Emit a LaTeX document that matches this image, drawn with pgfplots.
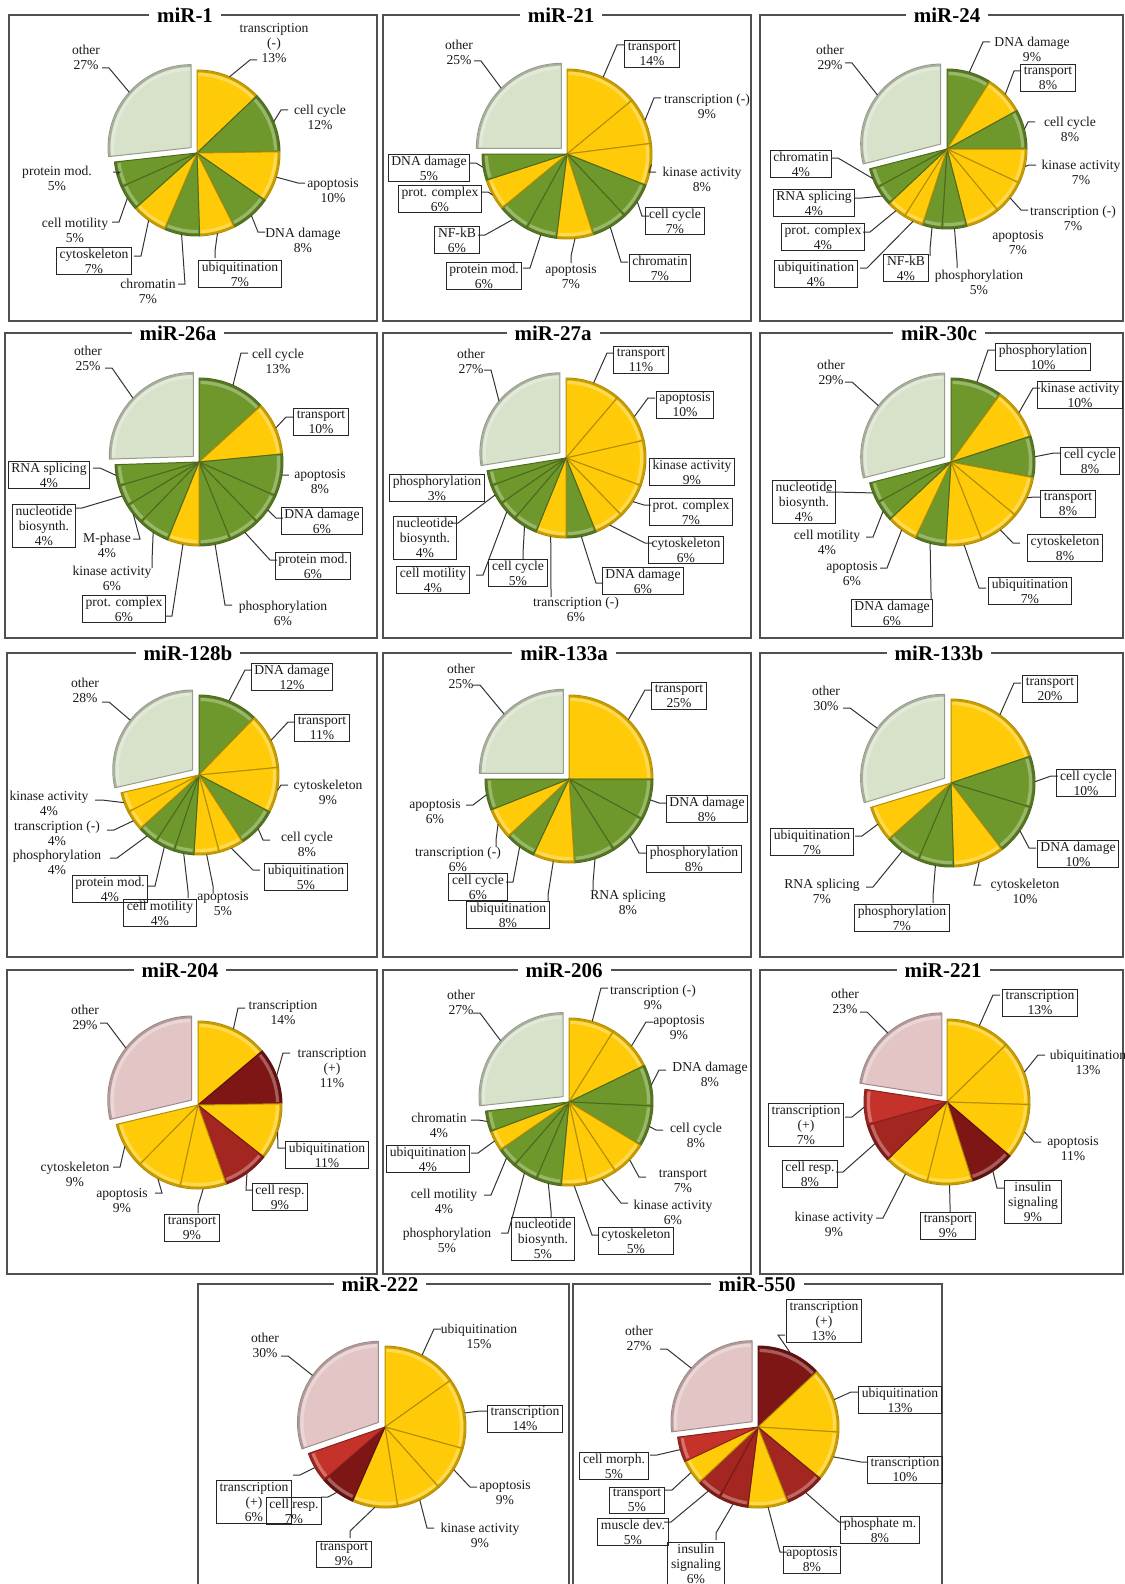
\documentclass[border=0pt]{standalone}
\usepackage{pgfplots}
\pgfplotsset{compat=1.18}
\usepackage{fontspec}
\setmainfont{Liberation Serif}
\definecolor{cY}{HTML}{FFCA08}
\definecolor{cG}{HTML}{6E982C}
\definecolor{cOG}{HTML}{D8E1CA}
\definecolor{cOP}{HTML}{E3C5C5}
\definecolor{cR1}{HTML}{7E1616}
\definecolor{cR2}{HTML}{A32621}
\definecolor{cR3}{HTML}{C4322A}
\definecolor{txt}{HTML}{1A1A1A}
\definecolor{pbox}{HTML}{505050}
\tikzset{
  lab/.style={font=\fontsize{6.8}{7.5}\selectfont, align=center, text=txt},
  bx/.style={draw=black!85, line width=0.5pt, inner xsep=1.6pt, inner ysep=0.8pt},
  nb/.style={inner sep=1pt},
  ldr/.style={draw=black!80, line width=0.5pt},
  ttl/.style={fill=white, inner xsep=4pt, inner ysep=1pt, font=\bfseries\fontsize{10.5}{12}\selectfont, text=black},
}
% #1 cx, #2 cy, #3 r (px), #4 list val/col/explode/lx/ly/ax/ay/side/box/text
\newcommand\pie[4]{%
  \gdef\pietotal{0}%
  \foreach \val/\col/\exd/\lx/\ly/\ax/\ay/\sd/\bx/\txt in {#4}{%
    \pgfmathparse{\pietotal+\val}\global\let\pietotal\pgfmathresult}%
  \gdef\pieang{90}%
  \foreach \val/\col/\exd/\lx/\ly/\ax/\ay/\sd/\bx/\txt in {#4}{%
    \pgfmathsetmacro\aend{\pieang-360*\val/\pietotal}%
    \pgfmathsetmacro\amid{(\pieang+\aend)/2}%
    \pgfmathsetmacro\pcx{#1+\exd*cos(\amid)}%
    \pgfmathsetmacro\pcy{#2-\exd*sin(\amid)}%
    \pgfmathsetmacro\rr{#3*0.5}%
    \pgfmathsetmacro\rh{#3*0.5-2.2}%
    \pgfmathsetmacro\rd{#3*0.5-0.7}%
    \edef\temp{\noexpand\fill[fill=\col, draw=\col!70!black, line width=0.5pt, line join=round]
      (axis cs:\pcx,\pcy) -- ++(\pieang:\rr pt) arc[start angle=\pieang, end angle=\aend, radius=\rr pt] -- cycle;}%
    \temp
    \edef\temp{\noexpand\draw[\col!45!white, line width=1.6pt, opacity=0.55]
      (axis cs:\pcx,\pcy) ++(\pieang-1.2:\rh pt) arc[start angle=\pieang-1.2, end angle=\aend+1.2, radius=\rh pt];}%
    \temp
    \edef\temp{\noexpand\draw[\col!72!black, line width=0.9pt, opacity=0.8]
      (axis cs:\pcx,\pcy) ++(\pieang:\rd pt) arc[start angle=\pieang, end angle=\aend, radius=\rd pt];}%
    \temp
    \global\let\pieang\aend
  }%
  \gdef\pieang{90}%
  \foreach \val/\col/\exd/\lx/\ly/\ax/\ay/\sd/\bx/\txt in {#4}{%
    \pgfmathsetmacro\aend{\pieang-360*\val/\pietotal}%
    \pgfmathsetmacro\amid{(\pieang+\aend)/2}%
    \pgfmathsetmacro\pcx{#1+\exd*cos(\amid)}%
    \pgfmathsetmacro\pcy{#2-\exd*sin(\amid)}%
    \pgfmathsetmacro\epx{\pcx+#3*cos(\amid)}%
    \pgfmathsetmacro\epy{\pcy-#3*sin(\amid)}%
    \ifnum\sd>0
      \ifcase\sd\or
        \pgfmathsetmacro\elx{\ax-7}\let\ely\ay
      \or
        \pgfmathsetmacro\elx{\ax+7}\let\ely\ay
      \or
        \let\elx\ax\pgfmathsetmacro\ely{\ay-7}%
      \fi
      \edef\temp{\noexpand\draw[ldr] (axis cs:\epx,\epy) -- (axis cs:\elx,\ely) -- (axis cs:\ax,\ay);}%
      \temp
    \fi
    \edef\temp{\noexpand\node[lab,\bx] at (axis cs:\lx,\ly) {\unexpanded\expandafter{\txt}};}%
    \temp
    \global\let\pieang\aend
  }%
}
% #1 x1 #2 y1 #3 x2 #4 y2 #5 title x #6 title
\newcommand\panel[6]{%
  \draw[pbox, line width=0.7pt] (axis cs:#1,#2) rectangle (axis cs:#3,#4);
  \node[ttl] at (axis cs:#5,#2) {#6};
}
\begin{document}
\begin{tikzpicture}
\begin{axis}[x=0.5pt, y=0.5pt, scale only axis, xmin=0, xmax=1124, ymin=0, ymax=1584,
  y dir=reverse, hide axis, clip=false]
% ---------- row 1
\panel{9}{15}{377}{321}{185}{miR-1}
\pie{197}{153}{83}{
13/cY/0/274/43/257/60/1/nb/{transcription\\(-)\\13\%},
12/cG/0/320/117/288/110/1/nb/{cell cycle\\12\%},
10/cY/0/333/191/305/183/1/nb/{apoptosis\\10\%},
8/cG/0/303/240/265/232/1/nb/{DNA damage\\8\%},
7/cY/0/240/274/215/258/3/bx/{ubiquitination\\7\%},
7/cG/0/148/291/178/284/2/nb/{chromatin\\7\%},
7/cY/0/94/261/134/256/2/bx/{cytoskeleton\\7\%},
5/cG/0/75/230/112/222/2/nb/{cell motility\\5\%},
5/cG/0/57/178/113/172/2/nb/{protein mod.\\5\%},
27/cOG/8/86/57/102/68/2/nb/{other\\27\%}}
\panel{383}{15}{751}{321}{561}{miR-21}
\pie{567}{154}{85}{
14/cY/0/652/54/624/45/1/bx/{transport\\14\%},
9/cY/0/707/106/661/98/1/nb/{transcription (-)\\9\%},
8/cY/0/702/179/656/172/1/nb/{kinase activity\\8\%},
7/cG/0/675/221/649/216/1/bx/{cell cycle\\7\%},
7/cG/0/660/268/628/262/1/bx/{chromatin\\7\%},
7/cY/0/571/277/571/263/3/nb/{apoptosis\\7\%},
6/cG/0/484/276/523/268/2/bx/{protein mod.\\6\%},
6/cG/0/457/240/478/235/2/bx/{NF-kB\\6\%},
6/cY/0/440/199/481/192/2/bx/{prot. complex\\6\%},
5/cG/0/429/168/469/163/2/bx/{DNA damage\\5\%},
25/cOG/8/459/52/474/61/2/nb/{other\\25\%}}
\panel{760}{15}{1123}{321}{947}{miR-24}
\pie{947}{149}{80}{
9/cG/0/1032/49/990/42/1/nb/{DNA damage\\9\%},
8/cY/0/1048/78/1021/71/1/bx/{transport\\8\%},
8/cG/0/1070/129/1035/122/1/nb/{cell cycle\\8\%},
7/cY/0/1081/172/1036/165/1/nb/{kinase activity\\7\%},
7/cY/0/1073/218/1028/210/1/nb/{transcription (-)\\7\%},
7/cY/0/1018/243/0/0/0/nb/{apoptosis\\7\%},
5/cG/0/979/282/957/268/3/nb/{phosphorylation\\5\%},
4/cG/0/906/268/930/256/3/bx/{NF-kB\\4\%},
4/cY/0/816/274/860/268/2/bx/{ubiquitination\\4\%},
4/cY/0/823/237/863/232/2/bx/{prot. complex\\4\%},
4/cG/0/814/203/855/198/2/bx/{RNA splicing\\4\%},
4/cG/0/801/164/831/158/2/bx/{chromatin\\4\%},
29/cOG/8/830/57/845/63/2/nb/{other\\29\%}}
% ---------- row 2
\panel{5}{333}{377}{638}{178}{miR-26a}
\pie{199}{462}{84}{
13/cG/0/278/361/248/353/1/nb/{cell cycle\\13\%},
10/cY/0/321/422/293/417/1/bx/{transport\\10\%},
8/cG/0/320/482/289/475/1/nb/{apoptosis\\8\%},
6/cG/0/322/521/283/518/1/bx/{DNA damage\\6\%},
6/cG/0/313/566/277/560/1/bx/{protein mod.\\6\%},
6/cG/0/283/613/232/605/1/nb/{phosphorylation\\6\%},
6/cY/0/124/609/165/616/2/bx/{prot. complex\\6\%},
6/cG/0/112/578/152/568/3/nb/{kinase activity\\6\%},
4/cG/0/107/545/133/539/2/nb/{M-phase\\4\%},
4/cG/0/44/526/75/508/2/bx/{nucleotide\\biosynth.\\4\%},
4/cG/0/49/475/93/468/2/bx/{RNA splicing\\4\%},
25/cOG/8/88/358/105/368/2/nb/{other\\25\%}}
\panel{383}{333}{751}{638}{553}{miR-27a}
\pie{566}{458}{80}{
11/cY/0/641/360/614/353/1/bx/{transport\\11\%},
10/cY/0/685/405/655/398/1/bx/{apoptosis\\10\%},
9/cY/0/692/472/0/0/0/bx/{kinase activity\\9\%},
7/cY/0/691/512/651/505/1/bx/{prot. complex\\7\%},
6/cY/0/686/550/652/543/1/bx/{cytoskeleton\\6\%},
6/cG/0/643/581/603/583/1/bx/{DNA damage\\6\%},
6/cY/0/576/609/551/597/3/nb/{transcription (-)\\6\%},
5/cG/0/518/573/523/560/3/bx/{cell cycle\\5\%},
4/cG/0/433/580/476/575/2/bx/{cell motility\\4\%},
4/cG/0/425/538/451/523/2/bx/{nucleotide\\biosynth.\\4\%},
3/cG/0/437/488/0/0/0/bx/{phosphorylation\\3\%},
27/cOG/8/471/361/484/370/2/nb/{other\\27\%}}
\panel{760}{333}{1123}{638}{939}{miR-30c}
\pie{951}{462}{84}{
10/cG/0/1043/357/995/350/1/bx/{phosphorylation\\10\%},
10/cY/0/1080/395/1040/388/1/bx/{kinase activity\\10\%},
8/cG/0/1090/461/1061/453/1/bx/{cell cycle\\8\%},
8/cY/0/1068/504/1041/497/1/bx/{transport\\8\%},
8/cY/0/1065/548/1020/543/1/bx/{cytoskeleton\\8\%},
7/cY/0/1030/591/986/588/1/bx/{ubiquitination\\7\%},
6/cG/0/892/613/931/600/3/bx/{DNA damage\\6\%},
6/cY/0/852/574/880/568/2/nb/{apoptosis\\6\%},
4/cG/0/827/542/866/537/2/nb/{cell motility\\4\%},
4/cG/0/804/502/826/492/2/bx/{nucleotide\\biosynth.\\4\%},
29/cOG/8/831/372/845/382/2/nb/{other\\29\%}}
% ---------- row 3
\panel{7}{653}{377}{957}{188}{miR-128b}
\pie{199}{775}{80}{
12/cG/0/292/677/252/670/1/bx/{DNA damage\\12\%},
11/cY/0/322/728/295/722/1/bx/{transport\\11\%},
9/cY/0/328/792/288/785/1/nb/{cytoskeleton\\9\%},
8/cG/0/307/844/270/840/1/nb/{cell cycle\\8\%},
5/cY/0/306/877/260/870/1/bx/{ubiquitination\\5\%},
5/cY/0/223/904/213/893/3/nb/{apoptosis\\5\%},
4/cG/0/160/913/188/898/3/bx/{cell motility\\4\%},
4/cG/0/110/889/148/886/2/bx/{protein mod.\\4\%},
4/cG/0/57/862/110/858/2/nb/{phosphorylation\\4\%},
4/cY/0/57/833/107/830/2/nb/{transcription (-)\\4\%},
4/cY/0/49/803/95/800/2/nb/{kinase activity\\4\%},
28/cOG/8/85/690/102/702/2/nb/{other\\28\%}}
\panel{383}{653}{751}{957}{564}{miR-133a}
\pie{569}{779}{84}{
25/cY/0/679/696/652/690/1/bx/{transport\\25\%},
8/cG/0/707/809/666/803/1/bx/{DNA damage\\8\%},
8/cG/0/694/859/646/853/1/bx/{phosphorylation\\8\%},
8/cG/0/628/902/593/890/3/nb/{RNA splicing\\8\%},
8/cY/0/508/915/548/902/3/bx/{ubiquitination\\8\%},
6/cG/0/478/887/506/882/2/bx/{cell cycle\\6\%},
6/cY/0/458/859/496/847/3/nb/{transcription (-)\\6\%},
6/cG/0/435/812/466/805/2/nb/{apoptosis\\6\%},
25/cOG/8/461/676/473/685/2/nb/{other\\25\%}}
\panel{760}{653}{1123}{957}{939}{miR-133b}
\pie{951}{783}{84}{
20/cY/0/1050/689/1021/683/1/bx/{transport\\20\%},
10/cG/0/1086/783/1058/776/1/bx/{cell cycle\\10\%},
10/cG/0/1078/854/1036/848/1/bx/{DNA damage\\10\%},
10/cY/0/1025/891/981/885/1/nb/{cytoskeleton\\10\%},
7/cG/0/902/918/933/903/3/bx/{phosphorylation\\7\%},
7/cG/0/822/891/866/887/2/nb/{RNA splicing\\7\%},
7/cY/0/812/842/855/836/2/bx/{ubiquitination\\7\%},
30/cOG/8/826/698/843/708/2/nb/{other\\30\%}}
% ---------- row 4
\panel{7}{970}{377}{1274}{180}{miR-204}
\pie{198}{1105}{84}{
14/cY/0/283/1013/245/1008/1/nb/{transcription\\14\%},
11/cR1/0/332/1068/290/1053/1/nb/{transcription\\(+)\\11\%},
11/cY/0/327/1155/285/1148/1/bx/{ubiquitination\\11\%},
9/cR2/0/280/1197/253/1190/1/bx/{cell resp.\\9\%},
9/cY/0/192/1228/198/1213/3/bx/{transport\\9\%},
9/cY/0/122/1201/155/1193/2/nb/{apoptosis\\9\%},
9/cY/0/75/1174/113/1167/2/nb/{cytoskeleton\\9\%},
29/cOP/8/85/1017/100/1023/2/nb/{other\\29\%}}
\panel{383}{970}{751}{1274}{564}{miR-206}
\pie{569}{1102}{84}{
9/cY/0/653/997/608/988/1/nb/{transcription (-)\\9\%},
9/cY/0/679/1028/653/1022/1/nb/{apoptosis\\9\%},
8/cG/0/710/1074/666/1070/1/nb/{DNA damage\\8\%},
8/cG/0/696/1135/663/1130/1/nb/{cell cycle\\8\%},
7/cY/0/683/1181/646/1177/1/nb/{transport\\7\%},
6/cY/0/673/1212/628/1203/1/nb/{kinase activity\\6\%},
5/cY/0/636/1241/599/1235/1/bx/{cytoskeleton\\5\%},
5/cG/0/543/1239/551/1218/3/bx/{nucleotide\\biosynth.\\5\%},
5/cG/0/447/1240/501/1233/2/nb/{phosphorylation\\5\%},
4/cG/0/444/1201/484/1195/2/nb/{cell motility\\4\%},
4/cY/0/428/1159/471/1153/2/bx/{ubiquitination\\4\%},
4/cG/0/439/1125/471/1120/2/nb/{chromatin\\4\%},
27/cOG/8/461/1002/473/1013/2/nb/{other\\27\%}}
\panel{760}{970}{1123}{1274}{943}{miR-221}
\pie{947}{1102}{83}{
13/cY/0/1040/1003/1000/995/1/bx/{transcription\\13\%},
13/cY/0/1088/1062/1045/1055/1/nb/{ubiquitination\\13\%},
11/cY/0/1073/1149/1041/1142/1/nb/{apoptosis\\11\%},
9/cR1/0/1033/1202/1004/1188/1/bx/{insulin\\signaling\\9\%},
9/cY/0/948/1226/950/1212/3/bx/{transport\\9\%},
9/cY/0/834/1224/876/1218/2/nb/{kinase activity\\9\%},
8/cR2/0/810/1174/836/1172/2/bx/{cell resp.\\8\%},
7/cR3/0/806/1125/845/1117/2/bx/{transcription\\(+)\\7\%},
23/cOP/8/845/1001/860/1012/2/nb/{other\\23\%}}
% ---------- row 5
\panel{198}{1284}{569}{1590}{380}{miR-222}
\pie{385}{1427}{81}{
15/cY/0/479/1336/441/1329/1/nb/{ubiquitination\\15\%},
14/cY/0/525/1419/487/1411/1/bx/{transcription\\14\%},
9/cY/0/505/1493/477/1487/1/nb/{apoptosis\\9\%},
9/cY/0/480/1535/434/1528/1/nb/{kinase activity\\9\%},
9/cY/0/344/1554/350/1538/3/bx/{transport\\9\%},
7/cR1/0/294/1511/321/1497/2/bx/{cell resp.\\7\%},
6/cR3/0/254/1502/293/1475/2/bx/{transcription\\(+)\\6\%},
30/cOP/8/265/1345/281/1356/2/nb/{other\\30\%}}
\panel{573}{1284}{942}{1590}{757}{miR-550}
\pie{758}{1427}{81}{
13/cR1/0/824/1321/785/1335/1/bx/{transcription\\(+)\\13\%},
13/cY/0/900/1400/858/1392/1/bx/{ubiquitination\\13\%},
10/cY/0/905/1470/868/1462/1/bx/{transcription\\10\%},
8/cR2/0/880/1530/846/1522/1/bx/{phosphate m.\\8\%},
8/cY/0/812/1560/787/1552/1/bx/{apoptosis\\8\%},
6/cR2/0/696/1564/716/1540/3/bx/{insulin\\signaling\\6\%},
5/cR2/0/633/1532/664/1522/2/bx/{muscle dev.\\5\%},
5/cY/0/637/1500/665/1490/2/bx/{transport\\5\%},
5/cR3/0/614/1466/650/1455/2/bx/{cell morph.\\5\%},
27/cOP/8/639/1338/660/1349/2/nb/{other\\27\%}}
\end{axis}
\pgfresetboundingbox
\path[use as bounding box] (current axis.south west) rectangle (current axis.north east);
\end{tikzpicture}
\end{document}
